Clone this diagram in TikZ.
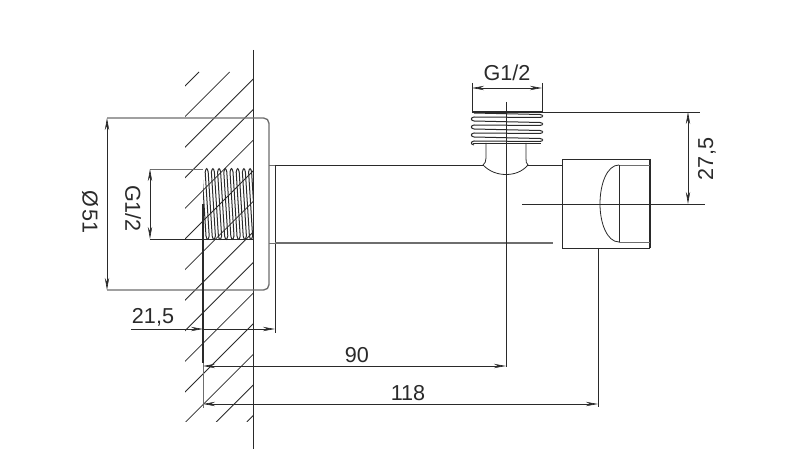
\documentclass[tikz,border=0pt]{standalone}
\usepackage{fontspec}
\setmainfont{Liberation Sans}
\usetikzlibrary{arrows.meta}
\definecolor{inkdark}{HTML}{2A2A2A}
\definecolor{inkgray}{HTML}{6E6E6E}
\tikzset{
  part/.style={draw=inkdark,line width=0.6pt},
  soft/.style={draw=inkgray,line width=1pt},
  hatch/.style={draw=inkdark,line width=0.6pt},
  thinline/.style={draw=inkdark,line width=0.5pt},
  threadline/.style={draw=inkdark,line width=0.75pt},
  dimline/.style={draw=inkdark,line width=0.5pt,
                  {Stealth[length=9pt,width=3.2pt]}-{Stealth[length=9pt,width=3.2pt]}},
  endtip/.style={draw=inkdark,line width=0.5pt,-{Stealth[length=9pt,width=3.2pt]}},
  starttip/.style={draw=inkdark,line width=0.5pt,{Stealth[length=9pt,width=3.2pt]}-},
  dimtext/.style={text=inkdark,font=\fontsize{16.2}{16.2}\selectfont,inner sep=0pt}
}
\begin{document}
\begin{tikzpicture}[x=0.75pt,y=-0.75pt]
  \useasboundingbox[fill=white] (0,0) rectangle (786,463);
  % wall hatching
  \begin{scope}
    \clip (185,72) rectangle (253,422);
    \foreach \c in {271,301.6,...,670}
      \draw[hatch] (\c-422,422) -- (\c-72,72);
  \end{scope}
  \draw[part,line width=0.7pt] (253,50) -- (253,449);
  % cover plate
  \draw[soft,rounded corners=4pt] (107,118) -- (269,118) -- (269,290) -- (107,290);
  \draw[soft,line width=0.6pt] (269,165) -- (275,165) (269,243) -- (275,243);
  % socket thread
  \begin{scope}
    \clip (203,167) rectangle (253,241);
    \foreach \x in {199,205.2,...,253}
      \draw[threadline]
        (\x,172) .. controls (\x+1,167.5) and (\x+2,167.5) .. (\x+3,172)
        -- (\x+7,236) .. controls (\x+8,240.5) and (\x+9.2,240.5) .. (\x+10.2,236)
        -- (\x+6.2,172);
  \end{scope}
  \draw[soft,line width=0.6pt] (150,169) -- (203,169);
  \draw[thinline] (150,239) -- (253,239);
  % body
  \draw[part] (275,165) -- (275,333);
  \draw[part] (275,165) -- (483,165);
  \draw[soft,line width=0.8pt] (275,243) -- (553,243);
  \draw[part] (528,165) -- (562,165);
  \draw[part] (486,143) -- (486,158) .. controls (486,161) and (485,164) .. (483,165);
  \draw[part] (526,143) -- (526,158) .. controls (526,161) and (526,164) .. (528,165);
  \draw[part] (483,165) .. controls (490,172) and (498,174.5) .. (506,174.5)
    .. controls (514,174.5) and (522,172) .. (528,165);
  % outlet thread
  \draw[part,line width=1.1pt] (472,112) -- (542,112);
  \foreach \y in {113,121,129,137}
    \draw[threadline]
      (474,\y) -- (540,\y+1.5) .. controls (543.5,\y+2) and (543.5,\y+4) .. (540,\y+4.5)
      -- (474,\y+4) .. controls (470.5,\y+4.5) and (470.5,\y+7.5) .. (474,\y+8);
  \draw[part,line width=0.9pt] (473,143.5) -- (541,143.5);
  % handle
  \draw[part,line width=0.7pt] (562,159) rectangle (649,248);
  \draw[part,line width=1.1pt] (650,159) -- (650,248);
  \draw[soft,line width=0.7pt] (619,165) -- (650,165) (619,242) -- (650,242);
  \draw[part] (619,165) -- (619,242);
  \draw[part] (619,165) .. controls (607,165) and (600,184) .. (600,204)
    .. controls (600,223) and (607,242) .. (619,242);
  % extension lines
  \coordinate (dia top) at (107,118);
  \coordinate (dia bot) at (107,290);
  \coordinate (gas top) at (150,169);
  \coordinate (gas bot) at (150,239);
  \coordinate (out left) at (472,88);
  \coordinate (out right) at (542,88);
  \coordinate (top mark) at (688,112);
  \coordinate (axis mark) at (688,204);
  \draw[thinline] (541,112) -- (700,112);
  \draw[thinline] (522,204) -- (705,204);
  \draw[thinline] (506,102) -- (506,367);
  \draw[thinline] (598,248) -- (598,407);
  \draw[thinline] (472,83) -- (472,112) (542,83) -- (542,112);
  \draw[part,line width=0.8pt] (203,204) -- (203,363);
  \draw[soft,line width=0.7pt] (203,363) -- (203,408);
  % dimensions
  \draw[dimline] (dia top) -- (dia bot);
  \draw[dimline] (gas top) -- (gas bot);
  \draw[dimline] (out left) -- (out right);
  \draw[dimline] (top mark) -- (axis mark);
  \draw[starttip] (203,329) -- (131,329);
  \draw[endtip] (203,329) -- (275,329);
  \draw[dimline] (203,366) -- (506,366);
  \draw[dimline] (203,404) -- (598,404);
  % labels
  \node[dimtext] (dia label) at (90,212) [rotate=-90] {\spaceskip=1.5pt Ø 51};
  \node[dimtext] (gas label) at (133,208.5) [rotate=-90] {G1/2};
  \node[dimtext] (out label) at (507,73) {G1/2};
  \node[dimtext] (rise label) at (707,159) [rotate=90] {27,5};
  \node[dimtext] (wall label) at (153,317) {21,5};
  \node[dimtext] (run label) at (357,355) {90};
  \node[dimtext] (reach label) at (408,393) {118};
\end{tikzpicture}
\end{document}
